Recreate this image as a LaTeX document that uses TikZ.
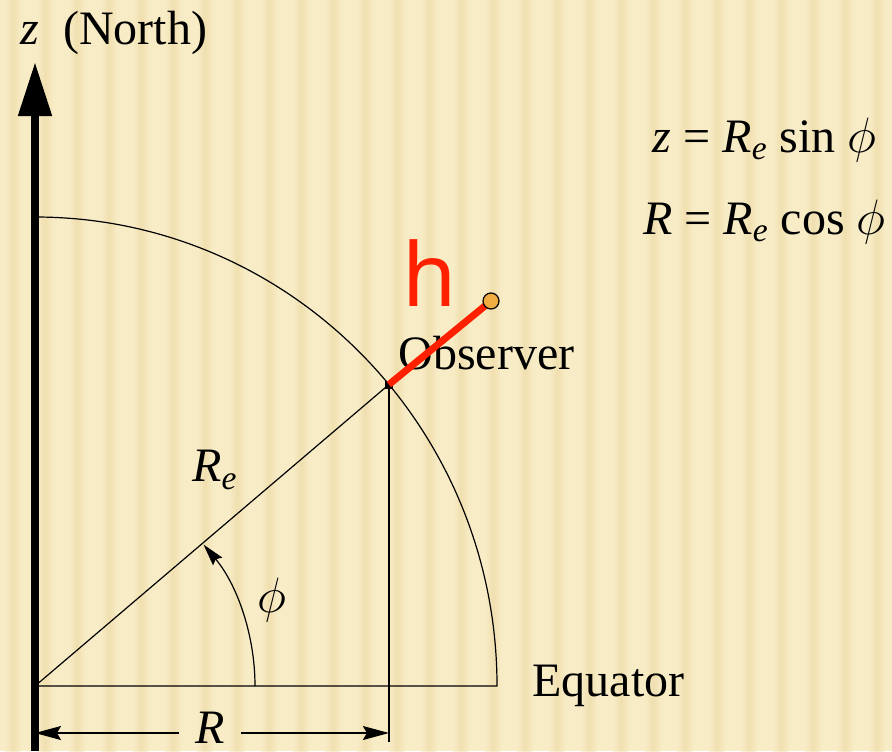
\documentclass[tikz,border=0pt]{standalone}
\usepackage{fontspec}
\setmainfont{Liberation Serif}
\newfontfamily\handfont{Noto Sans}
\usetikzlibrary{arrows.meta}
\definecolor{paper}{RGB}{248,236,198}
\definecolor{paperdark}{RGB}{235,214,158}
\definecolor{hred}{RGB}{255,32,0}
\definecolor{hdot}{RGB}{240,172,64}
\newcommand{\phisym}{$\phi$}
\tikzset{
	lab/.style={inner sep=0pt,font=\fontsize{24}{29}\selectfont},
	thinline/.style={line width=0.6pt},
	dimtip/.style={-{Stealth[length=13pt,width=7pt,inset=2pt]},thinline}
}

\begin{document}
\begin{tikzpicture}[x=0.5pt,y=0.5pt]
	% background
	\fill[paper] (-35,-65) rectangle (857,686);
	\foreach \x in {-30,2,...,857}
		\shade[left color=paper,right color=paper,middle color=paperdark,opacity=0.55] (\x,-65) rectangle ++(16,751);
	\useasboundingbox (-35,-65) rectangle (857,686);
	% frame of the quarter
	\coordinate (O) at (0,0);
	\coordinate (E) at (462,0);
	\coordinate (bot) at (0,-65);
	\coordinate (top) at (0,624);
	\coordinate (phistart) at (220,0);
	\node[fill=black,minimum size=4pt,inner sep=0pt] (obs) at (40:462 and 469) {};
	\coordinate (drop) at (obs |- 0,-56);
	\coordinate (dimL) at (0,-47);
	\coordinate (dimR) at (obs |- 0,-47);
	\coordinate (hend) at (456,385);
	\draw[thinline] (O) -- (E) arc[start angle=0,end angle=90,x radius=462,y radius=469];
	\draw[thinline] (O) -- (obs.center);
	\draw[thinline] (obs.center) -- (drop);
	\draw[-{Stealth[length=11pt,width=6pt,inset=1.5pt]},thinline] (phistart) arc[start angle=0,end angle=40,radius=220];
	\draw[line width=4pt,-{Triangle[width=16pt,length=27pt]}] (bot) -- (top);
	% labels
	\node[lab,anchor=west] (north) at (-15,653) {\textit{z}\ \ (North)};
	\node[lab,anchor=east] (zeq) at (842,546) {\textit{z} = \textit{R}\textsubscript{\textit{e}} sin \phisym};
	\node[lab,anchor=east] (Req) at (851,464) {\textit{R} = \textit{R}\textsubscript{\textit{e}} cos \phisym};
	\node[lab,anchor=west] (obslab) at (363,333) {Observer};
	\node[lab] (Re) at (180,216) {\textit{R}\textsubscript{\textit{e}}};
	\node[lab] (phi) at (237,86) {\phisym};
	\node[lab,anchor=west] (equ) at (497,0) {Equator};
	\node[lab,inner xsep=8pt] (Rlab) at (175,-42) {\textit{R}};
	\draw[dimtip] (Rlab.west |- dimL) -- (dimL);
	\draw[dimtip] (Rlab.east |- dimR) -- (dimR);
	% height above the surface
	\draw[hred,line width=3.5pt] (obs.center) -- (hend);
	\node[circle,draw=black,fill=hdot,line width=0.6pt,minimum size=8pt,inner sep=0pt] (hdot) at (hend) {};
	\node[text=hred,font=\handfont\fontsize{44}{50}\selectfont,inner sep=0pt] (h) at (395,413) {h};
\end{tikzpicture}
\end{document}
